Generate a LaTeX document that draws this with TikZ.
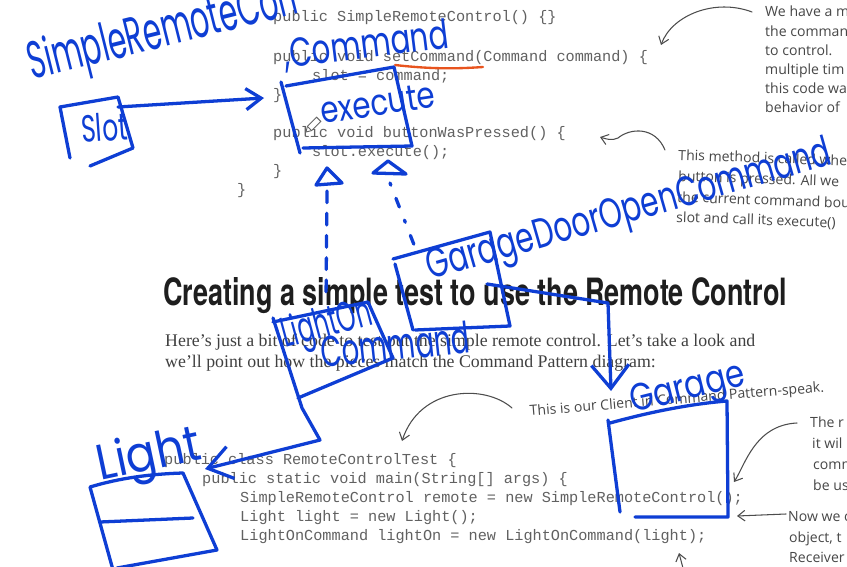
\documentclass[tikz,border=0pt]{standalone}
\usepackage{fontspec}
\usetikzlibrary{arrows.meta}
\setmainfont{Liberation Serif}
\newfontfamily\codefont{Liberation Mono}
\newfontfamily\notefont{Open Sans}
\newfontfamily\titlefont{TeX Gyre Heros}
\newfontfamily\handfont{Poppins}
\definecolor{pen}{RGB}{14,62,212}
\definecolor{marker}{RGB}{232,84,30}
\definecolor{printed}{RGB}{30,30,30}
\newlength\pxu
\setlength\pxu{0.03cm}
\newcommand\hand[3]{\resizebox{#1\pxu}{#2\pxu}{\handfont #3}}
\tikzset{
  code/.style={anchor=base west, inner sep=0, text=black!62, font=\codefont\fontsize{13}{16}\selectfont},
  note/.style={anchor=base west, inner sep=0, text=black!72, font=\notefont\fontsize{12}{16}\selectfont},
  body/.style={anchor=base west, inner sep=0, text=printed!85, font=\fontsize{15.2}{18}\selectfont},
  pointer/.style={draw=black!70, line width=0.9pt, line cap=round, -{Straight Barb[length=6pt,width=9pt]}},
  ink/.style={draw=pen, line width=2.8pt, line cap=round, line join=round},
  scribble/.style={anchor=base west, inner sep=0, text=pen},
}
\begin{document}
\begin{tikzpicture}[x=0.03cm, y=-0.03cm]
\useasboundingbox (0,0) rectangle (847,567);
\clip (0,0) rectangle (847,567);
\fill[white] (0,0) rectangle (847,567);

% printed page: SimpleRemoteControl code
\node[code] (c1) at (273,22) {public SimpleRemoteControl() \{\}};
\node[code] (c2) at (273,62) {public void setCommand(Command command) \{};
\node[code] (c3) at (312,81) {slot = command;};
\node[code] (c4) at (273,100) {\}};
\node[code] (c5) at (273,138) {public void buttonWasPressed() \{};
\node[code] (c6) at (312,157) {slot.execute();};
\node[code] (c7) at (273,176) {\}};
\node[code] (c8) at (237,195) {\}};

% printed page: notes on the right
\node[note] (n1) at (765,17) {We have a m};
\node[note] (n2) at (765,37) {the command};
\node[note] (n3) at (765,56) {to control.};
\node[note] (n4) at (765,75) {multiple tim};
\node[note] (n5) at (765,94) {this code wa};
\node[note] (n6) at (765,113) {behavior of};
\node[note, rotate=-2] (m1) at (678,160) {This method is called when};
\node[note, rotate=-2] (m2) at (678,181) {button is pressed.  All we};
\node[note, rotate=-2] (m3) at (677,202) {the current command bound};
\node[note, rotate=-2] (m4) at (676,222) {slot and call its execute()};

% title and text
\node[anchor=base west, inner sep=0, text=printed] (title) at (163,305)
  {\resizebox{624\pxu}{28\pxu}{\titlefont\bfseries Creating a simple test to use the Remote Control}};
\node[body] (b1) at (165,346) {Here’s just a bit of code to test out the simple remote control.  Let’s take a look and};
\node[body] (b2) at (165,367) {we’ll point out how the pieces match the Command Pattern diagram:};
\node[note, rotate=4.7] (client) at (530,416) {This is our Client in Command Pattern-speak.};
\node[note] (r1) at (810,427) {The r};
\node[note] (r2) at (812,448) {it wil};
\node[note] (r3) at (813,469) {comm};
\node[note] (r4) at (813,490) {be us};
\node[note] (s1) at (788,521) {Now we c};
\node[note] (s2) at (789,542) {object, t};
\node[note] (s3) at (789,562) {Receiver};

% RemoteControlTest code
\node[code] (d1) at (164,464) {public class RemoteControlTest \{};
\node[code] (d2) at (202,483) {public static void main(String[] args) \{};
\node[code] (d3) at (240,502) {SimpleRemoteControl remote = new SimpleRemoteControl();};
\node[code] (d4) at (240,521) {Light light = new Light();};
\node[code] (d5) at (240,540) {LightOnCommand lightOn = new LightOnCommand(light);};

% grey pointers
\coordinate (p1s) at (752,12);
\coordinate (p1e) at (661,45);
\draw[pointer] (p1s) .. controls (715,-2) and (672,15) .. (p1e);
\coordinate (p2s) at (665,150);
\coordinate (p2e) at (600,137);
\draw[pointer] (p2s) .. controls (655,126) and (630,128) .. (618,138) .. controls (612,141) and (606,139) .. (p2e);
\coordinate (p3s) at (512,408);
\coordinate (p3e) at (402,441);
\draw[pointer] (p3s) .. controls (485,384) and (420,386) .. (p3e);
\coordinate (p4s) at (797,423);
\coordinate (p4e) at (734,482);
\draw[pointer] (p4s) .. controls (755,425) and (745,465) .. (p4e);
\coordinate (p5s) at (786,514);
\coordinate (p5e) at (737,516);
\draw[pointer] (p5s) -- (p5e);
\coordinate (p6s) at (684,572);
\coordinate (p6e) at (679,553);
\draw[pointer] (p6s) -- (p6e);

\draw[marker, line width=2pt, line cap=round] (395,65) .. controls (430,69) and (455,69) .. (483,67);

% blue pen: SimpleRemoteControl with its slot
\node[scribble, rotate=14] (remoteLabel) at (32,80) {\hand{276}{40}{SimpleRemoteCon}};
\draw[ink] (70,158) -- (60,107) -- (118,97) -- (133,148) -- (90,166);
\node[scribble, rotate=4] (slotLabel) at (82,143) {\hand{46}{28}{Slot}};
\coordinate (slotOut) at (118,107);
\coordinate (cmdIn) at (264,98);
\draw[ink, -{Straight Barb[length=13pt,width=18pt]}] (slotOut) -- (cmdIn);

% Command interface
\node[scribble, rotate=7] (cmdLabel) at (285,68) {\hand{166}{30}{,Command}};
\draw[ink] (281,82) -- (300,153);
\draw[ink] (286,86) -- (394,67) -- (412,146) -- (303,148);
\node[scribble, rotate=8.5] (execLabel) at (322,124) {\hand{116}{25}{execute}};
\draw[ink] (327,168) -- (342,183) -- (316,185) -- cycle;
\draw[ink] (388,161) -- (406,174) -- (373,173) -- cycle;
\coordinate (t1) at (327,191);
\coordinate (lightOnTop) at (326,300);
\draw[ink, dash pattern=on 10pt off 9pt] (t1) -- (lightOnTop);
\coordinate (t2) at (390,183);
\coordinate (garageDoorTop) at (418,255);
\draw[ink, dash pattern=on 2pt off 12pt on 8pt off 12pt] (t2) -- (garageDoorTop);

% LightOnCommand and Light
\draw[ink] (273,322) -- (368,302) -- (393,358) -- (298,398);
\node[scribble, rotate=15] (lightOnLabel) at (285,348) {\hand{92}{32}{LightOn}};
\node[scribble, rotate=6] (lightCmdLabel) at (322,368) {\hand{150}{32}{Command}};
\coordinate (lightOnCorner) at (273,318);
\coordinate (lightIn) at (205,469);
\draw[ink, -{Straight Barb[length=20pt,width=28pt]}] (lightOnCorner) -- (302,408) -- (320,440) -- (lightIn);
\draw[ink] (113,570) -- (90,487) .. controls (120,478) and (150,474) .. (183,473) -- (217,550) -- (117,568);
\draw[ink] (100,522) -- (193,518);
\node[scribble, rotate=12] (lightLabel) at (100,481) {\hand{105}{38}{Light}};

% GarageDoorOpenCommand and Garage
\draw[ink] (395,264) -- (413,330);
\draw[ink] (393,259) -- (490,232) -- (510,326) -- (415,330);
\node[scribble, rotate=16] (garageCmdLabel) at (430,280) {\hand{420}{31}{GarageDoorOpenCommand}};
\coordinate (garageDoorOut) at (487,284);
\coordinate (garageBend) at (608,303);
\coordinate (garageIn) at (611,391);
\draw[ink, -{Straight Barb[length=20pt,width=32pt]}] (garageDoorOut) -- (garageBend) -- (garageIn);
\draw[ink] (608,420) -- (620,512);
\draw[ink] (610,423) .. controls (650,412) and (690,404) .. (727,401) -- (728,517) -- (635,517);
\node[scribble, rotate=14] (garageLabel) at (633,413) {\hand{117}{27}{Garage}};

% pencil cursor
\draw[black!60, line width=0.8pt, fill=white] (306,132) -- (307.4,126.4) -- (316.6,117.2) -- (320.8,121.4) -- (311.6,130.6) -- cycle;
\draw[black!60, line width=0.8pt] (307.4,126.4) -- (311.6,130.6);
\end{tikzpicture}
\end{document}
